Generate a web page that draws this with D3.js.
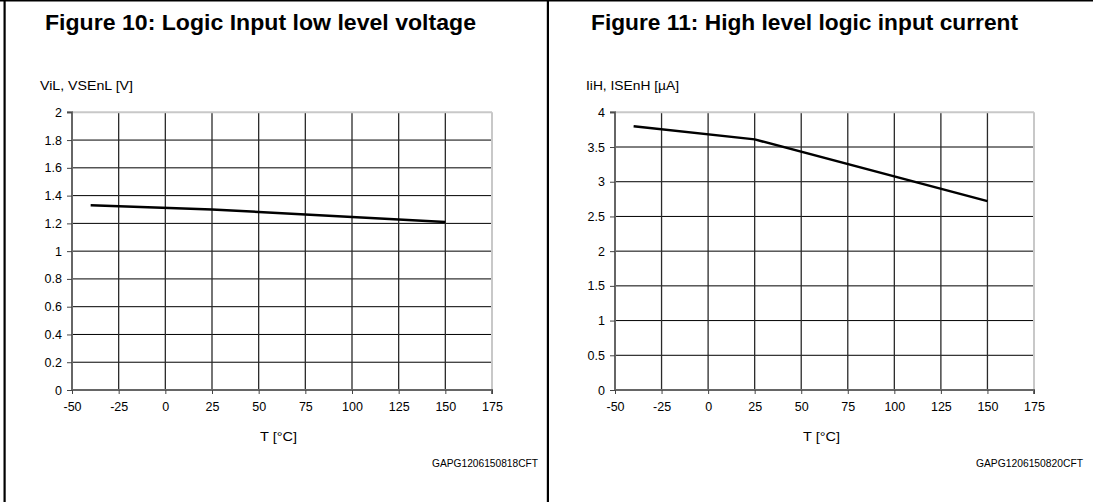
<!DOCTYPE html>
<html><head><meta charset="utf-8">
<script src="https://cdn.jsdelivr.net/npm/d3@7"></script>
<style>
html,body{margin:0;padding:0;background:#fff;}
svg{display:block;font-family:"Liberation Sans",Arial,sans-serif;}
</style></head>
<body>
<svg id="c" width="1093" height="502"></svg>
<script>
// ---- data ----
const xTicks = [-50, -25, 0, 25, 50, 75, 100, 125, 150, 175];
const temps = [-40, 25, 150];
const vil = [1.33, 1.30, 1.21];
const iih = [3.80, 3.61, 2.72];
const vilTicks = [0, 0.2, 0.4, 0.6, 0.8, 1, 1.2, 1.4, 1.6, 1.8, 2];
const iihTicks = [0, 0.5, 1, 1.5, 2, 2.5, 3, 3.5, 4];
const titles = ["Figure 10: Logic Input low level voltage", "Figure 11: High level logic input current"];
const yLabels = ["ViL, VSEnL [V]", "IiH, ISEnH [µA]"];
const xLabel = "T [°C]";
const codes = ["GAPG1206150818CFT", "GAPG1206150820CFT"];

const svg = d3.select("#c");

// frame lines
svg.append("rect").attr("x",0).attr("y",0).attr("width",1093).attr("height",1.5).attr("fill","#000");
svg.append("rect").attr("x",3.5).attr("y",0).attr("width",2.2).attr("height",502).attr("fill","#000");
svg.append("rect").attr("x",546.8).attr("y",0).attr("width",2.2).attr("height",502).attr("fill","#000");

const panels = [
  {x0:72, x1:492, title:titles[0], tx0:45, tw:431, yl:yLabels[0], ylx:40, vals:vil, ticks:vilTicks, ymax:2, code:codes[0], codeX0:432, codeW:106, lx0:260},
  {x0:615, x1:1034, title:titles[1], tx0:591, tw:427, yl:yLabels[1], ylx:586, vals:iih, ticks:iihTicks, ymax:4, code:codes[1], codeX0:976, codeW:107, lx0:803}
];
const yTop = 112.3, yBot = 390;

panels.forEach(p => {
  const g = svg.append("g");
  const x = d3.scaleLinear().domain([-50,175]).range([p.x0,p.x1]);
  const y = d3.scaleLinear().domain([0,p.ymax]).range([yBot,yTop]);

  g.append("text").attr("x",p.tx0).attr("y",29.5)
    .attr("font-weight","bold").attr("font-size",21.5).attr("fill","#000")
    .attr("textLength",p.tw).attr("lengthAdjust","spacingAndGlyphs").text(p.title);
  g.append("text").attr("x",p.ylx).attr("y",89.5).attr("font-size",12).attr("fill","#000")
    .attr("textLength",93).attr("lengthAdjust","spacingAndGlyphs").text(p.yl);

  // horizontal grid
  g.selectAll(".hg").data(p.ticks.filter(d=>d>0 && d<p.ymax)).join("line")
    .attr("x1",p.x0).attr("x2",p.x1).attr("y1",d=>y(d)).attr("y2",d=>y(d))
    .attr("stroke","#000").attr("stroke-width",1);
  // vertical grid
  g.selectAll(".vg").data(xTicks.filter(d=>d>-50 && d<175)).join("line")
    .attr("x1",d=>x(d)).attr("x2",d=>x(d)).attr("y1",yTop).attr("y2",yBot)
    .attr("stroke","#2a2a2a").attr("stroke-width",1.3);
  // top & right light borders
  g.append("line").attr("x1",p.x0).attr("x2",p.x1).attr("y1",yTop).attr("y2",yTop)
    .attr("stroke","#c8c8c8").attr("stroke-width",2);
  g.append("line").attr("x1",p.x1).attr("x2",p.x1).attr("y1",yTop).attr("y2",yBot)
    .attr("stroke","#c8c8c8").attr("stroke-width",2);

  // axes
  const ya = d3.axisLeft(y).tickValues(p.ticks).tickFormat(d=>String(d)).tickSize(5).tickPadding(5);
  const yg = g.append("g").attr("transform",`translate(${p.x0},0)`).call(ya);
  const xa = d3.axisBottom(x).tickValues(xTicks).tickFormat(d=>String(d)).tickSize(4).tickPadding(8);
  const xg = g.append("g").attr("transform",`translate(0,${yBot})`).call(xa);
  [yg,xg].forEach(a=>{
    a.select(".domain").attr("stroke","#666").attr("stroke-width",2);
    a.selectAll(".tick line").attr("stroke","#444");
    a.selectAll("text").attr("font-size",12.5).attr("fill","#000")
      .attr("font-family","Liberation Sans, Arial, sans-serif");
  });
  yg.select(".domain").attr("d",`M-5,${yTop}H0V${yBot}`);
  xg.select(".domain").attr("d",`M${p.x0},0H${p.x1}V4`);

  g.append("text").attr("x",p.lx0).attr("y",441)
    .attr("font-size",13).attr("fill","#000")
    .attr("textLength",37).attr("lengthAdjust","spacingAndGlyphs").text(xLabel);
  g.append("text").attr("x",p.codeX0).attr("y",466.5)
    .attr("font-size",10).attr("fill","#000")
    .attr("textLength",p.codeW).attr("lengthAdjust","spacingAndGlyphs").text(p.code);

  const pts = temps.map((t,i)=>[t,p.vals[i]]);
  g.append("path").datum(pts)
    .attr("d",d3.line().x(d=>x(d[0])).y(d=>y(d[1])))
    .attr("fill","none").attr("stroke","#000").attr("stroke-width",2.5);
});
</script>
</body></html>
